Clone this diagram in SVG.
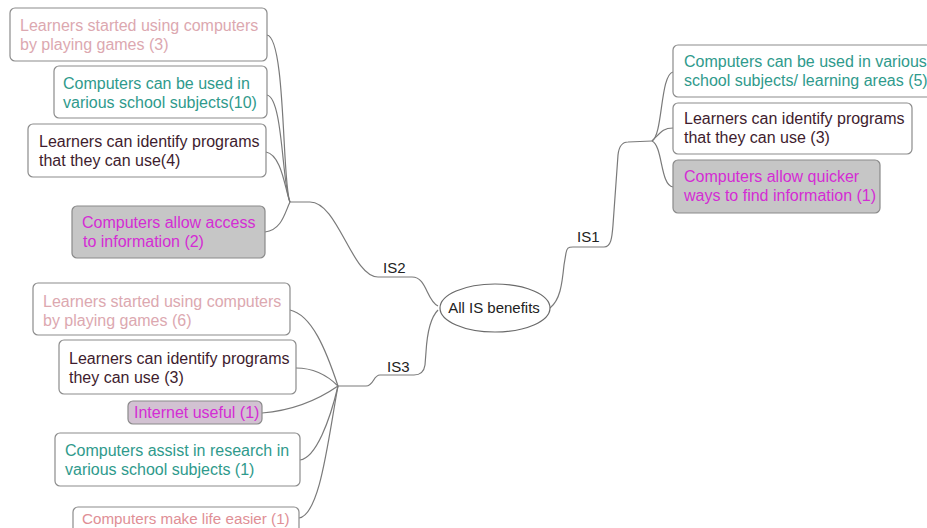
<svg xmlns="http://www.w3.org/2000/svg" width="927" height="528" viewBox="0 0 927 528">
<defs>
<style>
text{font-family:"Liberation Sans",Arial,sans-serif;font-size:16px}
.box{fill:#ffffff;stroke:#8c8c8c;stroke-width:1.2}
.gbox{fill:#c6c6c6;stroke:#8a8a8a;stroke-width:1.2}
.pbox{fill:#d2c2d2;stroke:#8a8a8a;stroke-width:1.2}
.pink{fill:#dca8b0}
.salmon{fill:#e08f96}
.teal{fill:#2f9a8c}
.dark{fill:#3e1c2e}
.mag{fill:#d42cd4}
.lbl{fill:#222;font-size:15px}
.root{fill:#222;font-size:15px}
.small{font-size:15.2px}
.conn path{fill:none;stroke:#7a7a7a;stroke-width:1.2}
</style>
</defs>
<rect width="927" height="528" fill="#ffffff"/>

<g class="conn" id="connectors">
<path d="M438,306 C426,300 427,277 412,277 L378,277 C352,277 338,202 310,202 L290,202"/>
<path d="M267,35 C286,38 282,185 290,202"/>
<path d="M267,95 C283,98 282,185 290,202"/>
<path d="M266,152 C282,155 285,190 290,202"/>
<path d="M265,232 C282,230 285,212 290,202"/>
<path d="M438,310 C430,318 427,335 426,352 L425,365 C424,372 420,375 414,375 L380,375 C373,375 374,386 366,386 L338,386"/>
<path d="M290,310 C312,315 326,350 338,386"/>
<path d="M296,368 C316,368 330,378 338,386"/>
<path d="M262,413 C300,410 325,395 338,386"/>
<path d="M300,460 C316,458 330,420 338,386"/>
<path d="M299,518 C320,515 328,440 338,386"/>
<path d="M550,308 C560,300 562,285 564,265 L566,253 C567,248 568,247 573,247 L604,247 C611,247 612,238 613,225 L618,155 C619,146 622,142 628,142 L652,141"/>
<path d="M652,141 C663,135 660,75 673,72"/>
<path d="M652,141 C661,132 663,128 673,128"/>
<path d="M652,141 C663,146 660,185 673,187"/>
</g>

<g id="root">
<ellipse cx="495" cy="308" rx="55" ry="24" fill="#ffffff" stroke="#6a6a6a" stroke-width="1.2"/>
<text class="root" x="494" y="313" text-anchor="middle">All IS benefits</text>
</g>
<g id="is1"><text class="lbl" x="577" y="242">IS1</text></g>
<g id="is2"><text class="lbl" x="383" y="273">IS2</text></g>
<g id="is3"><text class="lbl" x="387" y="372">IS3</text></g>

<g id="n_is2_games">
<rect class="box" x="10" y="8" width="257" height="53" rx="5"/>
<text class="pink" x="20" y="31">Learners started using computers</text>
<text class="pink" x="20" y="50">by playing games (3)</text>
</g>
<g id="n_is2_subjects">
<rect class="box" x="54" y="66" width="213" height="52" rx="5"/>
<text class="teal" x="63" y="89">Computers can be used in</text>
<text class="teal" x="63" y="108">various school subjects(10)</text>
</g>
<g id="n_is2_programs">
<rect class="box" x="28" y="124" width="238" height="53" rx="5"/>
<text class="dark" x="39" y="147">Learners can identify programs</text>
<text class="dark" x="39" y="166">that they can use(4)</text>
</g>
<g id="n_is2_access">
<rect class="gbox" x="72" y="206" width="193" height="52" rx="5"/>
<text class="mag" x="82" y="228">Computers allow access</text>
<text class="mag" x="83" y="247">to information (2)</text>
</g>

<g id="n_is3_games">
<rect class="box" x="33" y="283" width="257" height="52" rx="5"/>
<text class="pink" x="43" y="307">Learners started using computers</text>
<text class="pink" x="43" y="326">by playing games (6)</text>
</g>
<g id="n_is3_programs">
<rect class="box" x="59" y="340" width="237" height="54" rx="5"/>
<text class="dark" x="69" y="364">Learners can identify programs</text>
<text class="dark" x="69" y="383">they can use (3)</text>
</g>
<g id="n_is3_internet">
<rect class="pbox" x="128" y="401" width="134" height="23" rx="5"/>
<text class="mag" x="134" y="418">Internet useful (1)</text>
</g>
<g id="n_is3_research">
<rect class="box" x="55" y="433" width="245" height="53" rx="5"/>
<text class="teal" x="65" y="456">Computers assist in research in</text>
<text class="teal" x="65" y="475">various school subjects (1)</text>
</g>
<g id="n_is3_easier">
<rect class="box" x="73" y="507" width="226" height="30" rx="5"/>
<text class="salmon small" x="82" y="524">Computers make life easier (1)</text>
</g>

<g id="n_is1_subjects">
<rect class="box" x="673" y="45" width="262" height="52" rx="5"/>
<text class="teal" x="684" y="67">Computers can be used in various</text>
<text class="teal" x="684" y="86">school subjects/ learning areas (5)</text>
</g>
<g id="n_is1_programs">
<rect class="box" x="673" y="103" width="239" height="51" rx="5"/>
<text class="dark" x="684" y="124">Learners can identify programs</text>
<text class="dark" x="684" y="143">that they can use (3)</text>
</g>
<g id="n_is1_quicker">
<rect class="gbox" x="673" y="160" width="207" height="53" rx="5"/>
<text class="mag" x="684" y="182">Computers allow quicker</text>
<text class="mag" x="684" y="201">ways to find information (1)</text>
</g>
</svg>
